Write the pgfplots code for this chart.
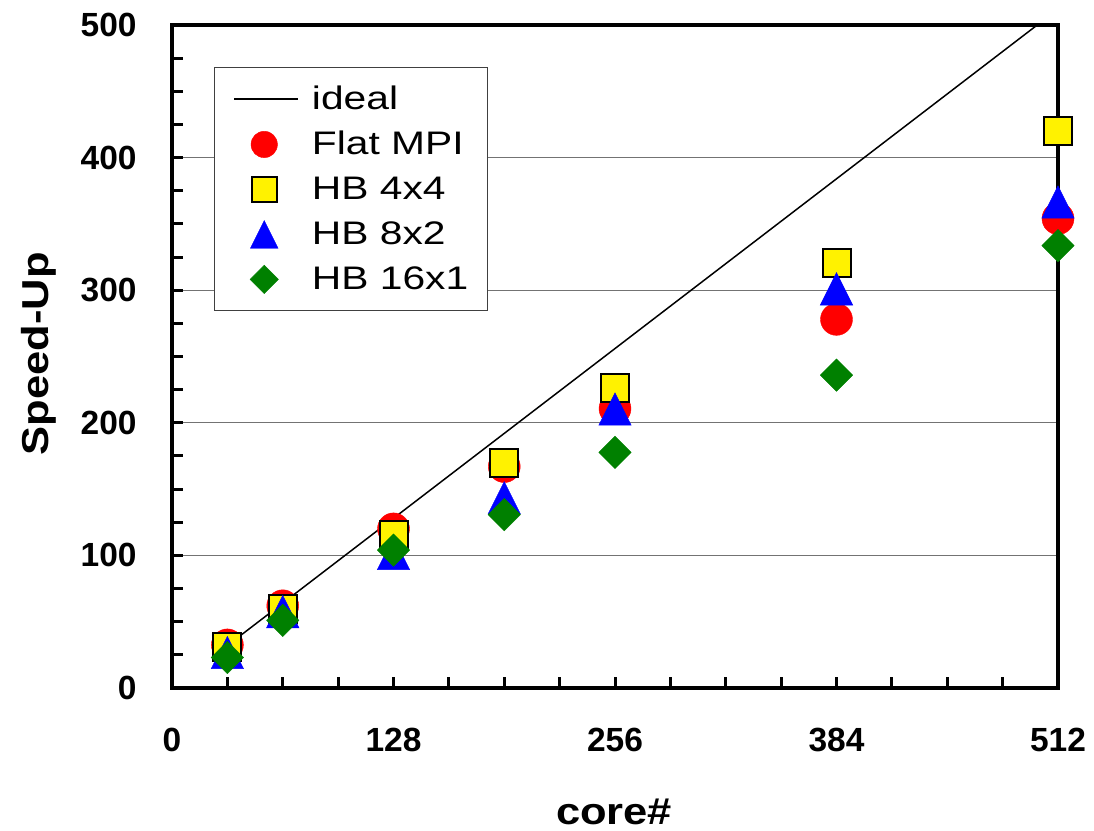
\documentclass[border=0pt]{standalone}
\usepackage{fontspec}
\setmainfont{Liberation Sans}
\newfontfamily\labfont[FakeStretch=1.16]{Liberation Sans}
\newfontfamily\legfont[FakeStretch=1.25]{Liberation Sans}
\usepackage{pgfplots}
\pgfplotsset{compat=1.18}
\definecolor{xlgreen}{RGB}{0,128,0}
\pgfdeclareplotmark{xtri}{%
  \pgfpathmoveto{\pgfqpoint{0pt}{\pgfplotmarksize}}%
  \pgfpathlineto{\pgfqpoint{\pgfplotmarksize}{-\pgfplotmarksize}}%
  \pgfpathlineto{\pgfqpoint{-\pgfplotmarksize}{-\pgfplotmarksize}}%
  \pgfpathclose\pgfusepathqfillstroke}
\pgfdeclareplotmark{xdia}{%
  \pgfpathmoveto{\pgfqpoint{0pt}{\pgfplotmarksize}}%
  \pgfpathlineto{\pgfqpoint{\pgfplotmarksize}{0pt}}%
  \pgfpathlineto{\pgfqpoint{0pt}{-\pgfplotmarksize}}%
  \pgfpathlineto{\pgfqpoint{-\pgfplotmarksize}{0pt}}%
  \pgfpathclose\pgfusepathqfillstroke}
\begin{document}
\begin{tikzpicture}
\useasboundingbox (0,0) rectangle (547pt,415.5pt);
\begin{axis}[
  at={(86pt,71.5pt)}, anchor=south west,
  scale only axis, width=443pt, height=331.5pt,
  xmin=0, xmax=512, ymin=0, ymax=500,
  xtick={0,128,256,384,512},
  minor xtick={32,64,...,480},
  ytick={0,100,...,500},
  minor ytick={25,50,...,475},
  tick pos=left,
  tick align=inside,
  major tick length=5.5pt, minor tick length=5.5pt,
  every tick/.style={black, line width=1.5pt},
  ymajorgrids,
  major grid style={black!55, line width=0.5pt},
  axis line style={line width=1.75pt},
  /pgf/number format/assume math mode=true,
  xticklabel style={font=\fontsize{16.75pt}{20pt}\selectfont\bfseries, anchor=center, inner sep=0pt, yshift=-26pt},
  yticklabel style={font=\fontsize{16.75pt}{20pt}\selectfont\bfseries, anchor=east, inner sep=0pt, xshift=-17.5pt},
  xlabel={core\#}, ylabel={Speed-Up},
  every axis x label/.style={at={(axis description cs:0.499,-0.187)}, anchor=center, font=\labfont\bfseries\fontsize{18.75pt}{22pt}\selectfont},
  every axis y label/.style={at={(axis description cs:-0.150,0.504)}, anchor=center, rotate=90, font=\labfont\bfseries\fontsize{18.75pt}{22pt}\selectfont},
  legend cell align=left,
  legend style={at={(0.0474,0.9367)}, anchor=north west, draw=black!75, line width=0.5pt, fill=white,
    inner xsep=9.5pt, inner ysep=8.5pt, font=\legfont\fontsize{16.3pt}{19pt}\selectfont,
    row sep=8pt, column sep=6.5pt, nodes={inner sep=0pt}},
]
\addplot[black, line width=0.75pt,
  legend image code/.code={\draw[black,line width=0.75pt] (0pt,0pt) -- (32pt,0pt); \path (0pt,-7pt) (0pt,7pt);}]
  coordinates {(32,32) (512,512)};
\addlegendentry{ideal}
\addplot[only marks, mark=*, mark size=8pt, mark options={fill=red, draw=red, line width=0.2pt},
  legend image code/.code={\draw[mark=*, mark size=6.6pt, mark options={fill=red, draw=red, line width=0.2pt}] plot coordinates {(15pt,0pt)}; \path (0pt,-7pt) (32pt,7pt);}]
  coordinates {(32,32.5) (64,62) (128,120) (192,167) (256,210.7) (384,278) (512,354)};
\addlegendentry{Flat MPI}
\addplot[only marks, mark=square*, mark size=7pt, mark options={fill=yellow, draw=black, line width=1pt},
  legend image code/.code={\draw[mark=square*, mark size=6.25pt, mark options={fill=yellow, draw=black, line width=1pt}] plot coordinates {(15pt,0pt)}; \path (0pt,-7pt) (32pt,7pt);}]
  coordinates {(32,31) (64,59.5) (128,115.6) (192,170) (256,226.6) (384,320.8) (512,420)};
\addlegendentry{HB 4x4}
\addplot[only marks, mark=xtri, mark size=8.1pt, mark options={fill=blue, draw=blue, line width=0.2pt},
  legend image code/.code={\draw[mark=xtri, mark size=6.9pt, mark options={fill=blue, draw=blue, line width=0.2pt}] plot coordinates {(15pt,0pt)}; \path (0pt,-7pt) (32pt,7pt);}]
  coordinates {(32,26.8) (64,57.6) (128,101.5) (192,143.5) (256,210.4) (384,301) (512,366.5)};
\addlegendentry{HB 8x2}
\addplot[only marks, mark=xdia, mark size=8.1pt, mark options={fill=xlgreen, draw=xlgreen, line width=0.2pt},
  legend image code/.code={\draw[mark=xdia, mark size=7.1pt, mark options={fill=xlgreen, draw=xlgreen, line width=0.2pt}] plot coordinates {(15pt,0pt)}; \path (0pt,-7pt) (32pt,7pt);}]
  coordinates {(32,23) (64,51) (128,104) (192,130.7) (256,177.7) (384,236) (512,333.6)};
\addlegendentry{HB 16x1}
\end{axis}
\end{tikzpicture}
\end{document}
